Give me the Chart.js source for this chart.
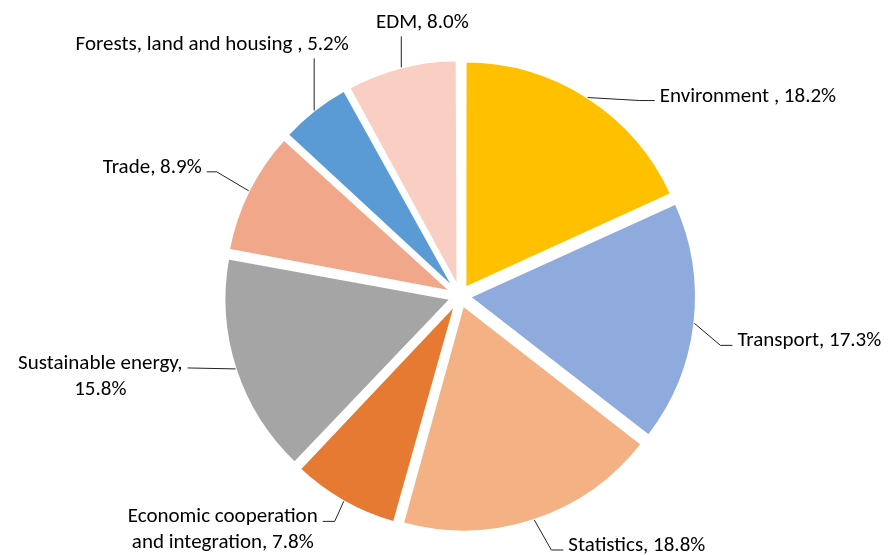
<!DOCTYPE html>
<html>
<head>
<meta charset="utf-8">
<title>Budget share by sector</title>
<script src="https://cdn.jsdelivr.net/npm/chart.js@4.4.1/dist/chart.umd.min.js"></script>
<style>
  html, body { margin: 0; padding: 0; background: #fff; }
  #wrap { width: 889px; height: 555px; position: relative; }
</style>
</head>
<body>
<div id="wrap"><canvas id="sector-pie"></canvas></div>
<script>
// sectors, clockwise from 12 o'clock
var sectors = ['Environment ', 'Transport', 'Statistics', 'Economic cooperation and integration',
               'Sustainable energy', 'Trade', 'Forests, land and housing ', 'EDM'];
var shares = [18.2, 17.3, 18.8, 7.8, 15.8, 8.9, 5.2, 8.0];
var sliceColors = ['#FFC000', '#8FAADC', '#F4B183', '#E67A32',
                   '#A5A5A5', '#F1A78A', '#5B9BD5', '#F8CFC2'];

// label layout: leader bend / end relative to the slice edge, which side the text sits
var leaderBend = [[52, 3], [26, 22], [17, 30], [-9, 20], [-48, -1], [-32, -19], [0, -52], [0, -31]];
var leaderEnd  = [[67, 3], [38, 22], [29, 30], [-21, 20], [-48, -1], [-42, -19], [0, -52], [0, -31]];
var labelSide  = ['right', 'right', 'right', 'left', 'left', 'left', 'top', 'top'];
var labelWrap  = [0, 0, 0, 205, 180, 0, 0, 0];
var topNudge   = [0, 0, 0, 0, 0, 0, -102, 21];

var pieRadius = 226;
var explode = 40;          // chart.js moves an arc by offset/4
var labelFont = '21px Carlito, Lato, sans-serif';

function wrapText(ctx, text, maxW) {
    if (!maxW) return [text];
    var words = text.split(' ');
    var lines = [];
    var cur = '';
    words.forEach(function (w) {
        var test = cur ? cur + ' ' + w : w;
        if (cur && ctx.measureText(test).width > maxW) {
            lines.push(cur);
            cur = w;
        } else {
            cur = test;
        }
    });
    lines.push(cur);
    return lines;
}

// keep every slice the same size once it is pulled out
var evenRadius = {
    id: 'evenRadius',
    afterDatasetUpdate: function (chart, args) {
        var shift = explode / 4;
        args.meta.data.forEach(function (arc) {
            var fix = 1 - Math.sin(Math.min(Math.PI, arc.circumference));
            arc.outerRadius = pieRadius - shift * fix;
        });
    }
};

var sliceLabels = {
    id: 'sliceLabels',
    afterDatasetsDraw: function (chart) {
        var ctx = chart.ctx;
        var meta = chart.getDatasetMeta(0);
        ctx.save();
        ctx.font = labelFont;
        ctx.fillStyle = '#000';
        ctx.strokeStyle = '#222';
        ctx.lineWidth = 1;
        meta.data.forEach(function (arc, i) {
            var mid = (arc.startAngle + arc.endAngle) / 2;
            var r = pieRadius + explode / 4;
            var ax = arc.x + Math.cos(mid) * r;
            var ay = arc.y + Math.sin(mid) * r;
            var bx = ax + leaderBend[i][0], by = ay + leaderBend[i][1];
            var ex = ax + leaderEnd[i][0], ey = ay + leaderEnd[i][1];

            ctx.beginPath();
            ctx.moveTo(ax, ay);
            ctx.lineTo(bx, by);
            ctx.lineTo(ex, ey);
            ctx.stroke();

            var text = sectors[i] + ', ' + shares[i].toFixed(1) + '%';
            var lines = wrapText(ctx, text, labelWrap[i]);
            var widest = Math.max.apply(null, lines.map(function (l) { return ctx.measureText(l).width; }));
            var lineH = 26;
            ctx.textBaseline = 'alphabetic';
            ctx.textAlign = 'center';
            var cx, baseY;
            if (labelSide[i] === 'right') {
                cx = ex + 5 + widest / 2;
                baseY = ey + 1;
            } else if (labelSide[i] === 'left') {
                cx = ex - 5 - widest / 2;
                baseY = ey + 1;
            } else {
                cx = ex + topNudge[i];
                baseY = ey - 8 - (lines.length - 1) * lineH;
            }
            lines.forEach(function (l, k) {
                ctx.fillText(l, cx, baseY + k * lineH);
            });
        });
        ctx.restore();
    }
};

var ctx = document.getElementById('sector-pie');
new Chart(ctx, {
    type: 'pie',
    data: {
        labels: sectors,
        datasets: [{
            data: shares,
            backgroundColor: sliceColors,
            borderColor: '#ffffff',
            borderWidth: 2,
            offset: explode
        }]
    },
    options: {
        responsive: true,
        maintainAspectRatio: false,
        animation: false,
        radius: pieRadius,
        layout: { padding: { left: 31, top: 37 } },
        plugins: {
            legend: { display: false },
            tooltip: { enabled: false }
        }
    },
    plugins: [evenRadius, sliceLabels]
});
</script>
</body>
</html>
